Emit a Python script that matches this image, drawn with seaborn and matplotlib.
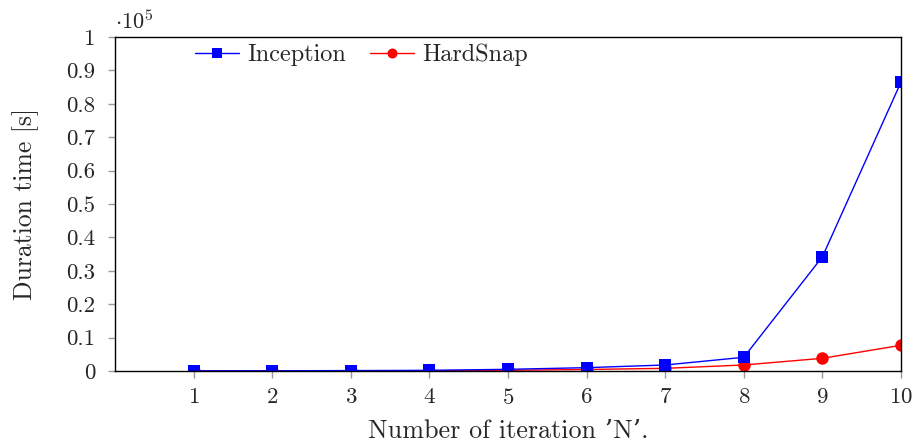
import numpy as np
import pandas as pd
import matplotlib
matplotlib.use("Agg")
import matplotlib.pyplot as plt
import seaborn as sns

# iterations and measured durations (seconds)
iterations = [1, 2, 3, 4, 5, 6, 7, 8, 9, 10]
inception = [50, 80, 120, 200, 500, 1000, 1800, 4100, 34200, 86500]
hardsnap = [30, 40, 60, 90, 200, 450, 800, 1800, 3800, 7700]
x_ticks = [1, 2, 3, 4, 5, 6, 7, 8, 9, 10]
y_ticks = [0, 0.1, 0.2, 0.3, 0.4, 0.5, 0.6, 0.7, 0.8, 0.9, 1]

sns.set_style("white")
plt.rcParams['font.family'] = ['cmr10', 'DejaVu Serif']
plt.rcParams['axes.formatter.use_mathtext'] = True
plt.rcParams['mathtext.fontset'] = 'cm'

df = pd.DataFrame({
    "N": iterations * 2,
    "t": np.array(inception + hardsnap) / 1e5,
    "tool": ["Inception"] * len(iterations) + ["HardSnap"] * len(iterations),
})

fig = plt.figure(figsize=(9.17, 4.46), dpi=100)
ax = fig.add_axes([115 / 917, 1 - 371 / 446, (901 - 115) / 917, (371 - 37) / 446])

# red first so the blue squares sit on top, legend order fixed below
sns.lineplot(data=df[df.tool == "HardSnap"], x="N", y="t", ax=ax, color="red",
             marker="o", markersize=9, markeredgewidth=0, linewidth=1, label="HardSnap")
sns.lineplot(data=df[df.tool == "Inception"], x="N", y="t", ax=ax, color="blue",
             marker="s", markersize=8.5, markeredgewidth=0, linewidth=1, label="Inception")

ax.set_xlim(0, 10)
ax.set_ylim(0, 1)
ax.set_xticks(x_ticks)
ax.set_yticks(y_ticks)
ax.set_yticklabels([f"{v:g}" for v in y_ticks])
ax.tick_params(axis="both", direction="out", length=5, width=1, color="#999999",
               labelsize=16.5, bottom=True, left=True)
ax.tick_params(axis="y", pad=9)
ax.tick_params(axis="x", pad=7)
for s in ax.spines.values():
    s.set_color("black")
    s.set_linewidth(1)

ax.set_xlabel("Number of iteration \u2019N\u2019.", fontsize=18.8)
ax.xaxis.set_label_coords(0.5, -0.145)
ax.set_ylabel("Duration time [s]", fontsize=18.5, labelpad=20)
ax.text(0.0, 1.012, r"$\cdot 10^5$", transform=ax.transAxes, fontsize=16,
        ha="left", va="bottom")

h, l = ax.get_legend_handles_labels()
ax.legend(h[::-1], l[::-1], loc="upper left", bbox_to_anchor=(0.074, 1.045), ncol=2,
          frameon=False, fontsize=17.5, handlelength=1.8, columnspacing=1.0,
          handletextpad=0.35, markerscale=0.8)

fig.savefig("out.png", dpi=100)
